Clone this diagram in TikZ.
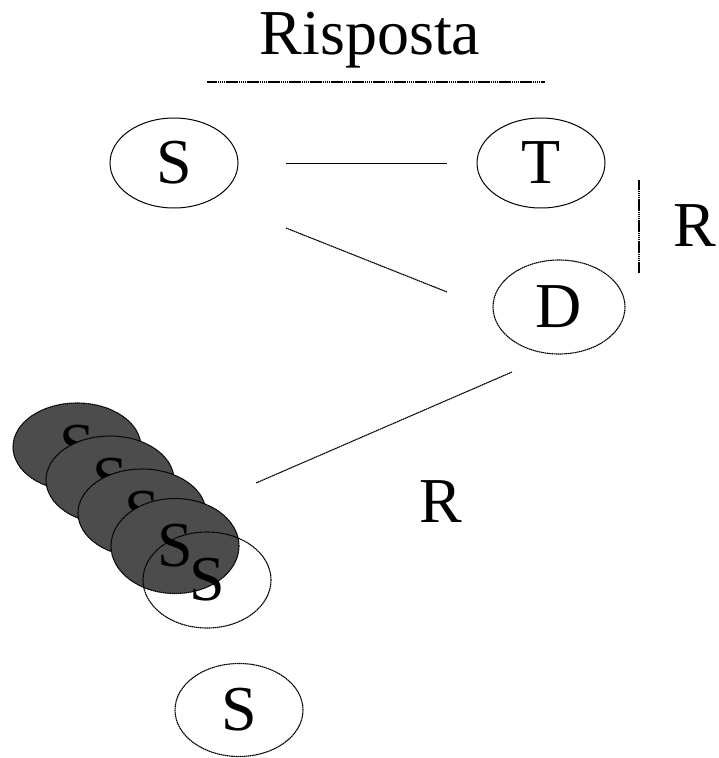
\documentclass[tikz,border=0pt]{standalone}
\usepackage{fontspec}
\setmainfont{Liberation Serif}
\usetikzlibrary{shapes.geometric}
\begin{document}
\begin{tikzpicture}[x=1pt,y=-1pt,
  big/.style={font=\fontsize{64}{64}\selectfont},
  finedots/.style={dash pattern=on 1.6pt off 0.5pt},
  solidell/.style={ellipse,draw,line width=1pt,minimum width=128pt,minimum height=90pt,inner sep=0pt,big},
  dotell/.style={ellipse,draw,finedots,line width=1.1pt,minimum width=128pt,minimum height=93pt,inner sep=0pt,big},
  grayell/.style={dotell,fill=black!70},
  link/.style={draw,line width=1pt},
  dotlink/.style={draw,finedots,line width=1.1pt}]
\useasboundingbox (0,0) rectangle (718,758);

% heading and its rule
\node[big,inner sep=0pt] (title) at (370,40) {Risposta};
\coordinate (ruleL) at (207,82);
\coordinate (ruleR) at (545,82);
\draw[dotlink] (ruleL) -- (ruleR);

% upper triangle of nodes
\node[solidell] (s1) at (174,163) {S};
\node[solidell] (t) at (541,163) {T};
\node[dotell,minimum width=132pt,minimum height=94pt] (d) at (559,307) {D};

\coordinate (st1) at (286,163);
\coordinate (st2) at (447,163);
\draw[link] (st1) -- (st2);
\coordinate (sd1) at (286,228);
\coordinate (sd2) at (447,292);
\draw[dotlink] (sd1) -- (sd2);

% R bracket beside T and D
\coordinate (rb1) at (639,180);
\coordinate (rb2) at (639,273);
\draw[dotlink] (rb1) -- (rb2);
\node[big,inner sep=0pt] (r1) at (695,226) {R};

% line from D down to the stack
\coordinate (dl1) at (512,372);
\coordinate (dl2) at (256,483);
\draw[dotlink] (dl1) -- (dl2);
\node[big,inner sep=0pt] (r2) at (441,502) {R};

% stacked shaded copies
\node[grayell,minimum height=88pt] (g1) at (77,447) {S};
\node[grayell,minimum height=88pt] (g2) at (110,480) {S};
\node[grayell,minimum height=88pt] (g3) at (142,513) {S};
\node[grayell,minimum height=95pt] (g4) at (175,546) {S};
\node[dotell,minimum height=96pt] (s2) at (207,580) {S};

% lowest node
\node[dotell] (s3) at (239,710) {S};
\end{tikzpicture}
\end{document}
